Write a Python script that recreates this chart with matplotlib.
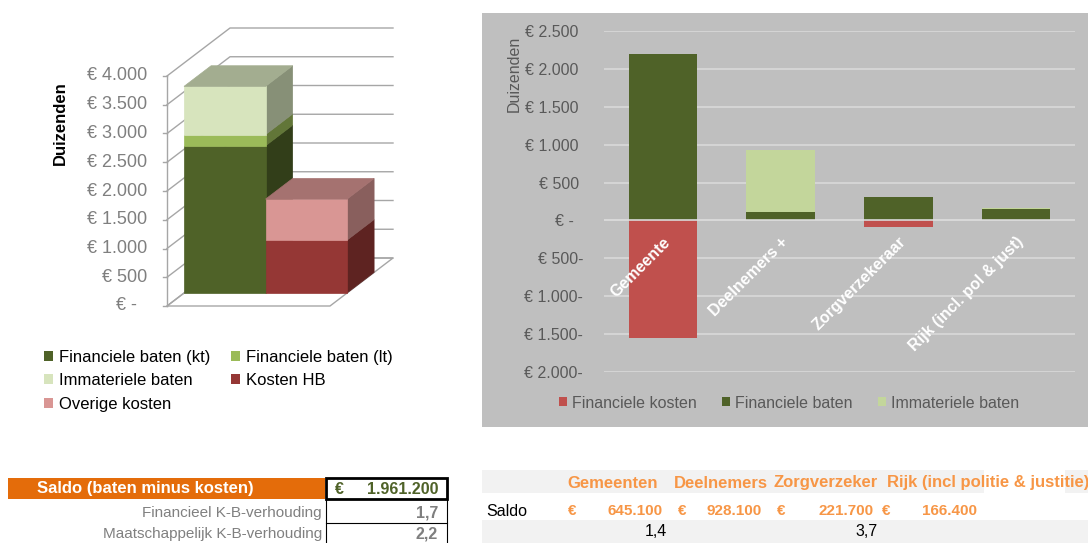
import matplotlib
matplotlib.use('Agg')
import matplotlib.pyplot as plt
from matplotlib.patches import Polygon, Rectangle, Patch
from matplotlib.colors import to_rgb
from matplotlib.transforms import ScaledTranslation

plt.rcParams['font.family'] = ['Liberation Sans', 'DejaVu Sans']

# ---- data: linker 3D-grafiek (duizenden euro) ----
baten_labels = ['Financiele baten (kt)', 'Financiele baten (lt)', 'Immateriele baten']
baten_values = [2560, 195, 839]
kosten_labels = ['Kosten HB', 'Overige kosten']
kosten_values = [920, 713]
left_ticks = list(range(0, 4001, 500))

# ---- data: rechter grafiek per partij ----
partijen = ['Gemeente', 'Deelnemers +', 'Zorgverzekeraar', 'Rijk (incl. pol & just)']
fin_kosten = [-1545, 0, -88, 0]
fin_baten = [2190, 110, 310, 145]
imm_baten = [0, 818, 0, 21]
right_ticks = list(range(-2000, 2501, 500))

# ---- data: tabellen ----
saldo_totaal = 1961200
kb_labels = ['Financieel K-B-verhouding', 'Maatschappelijk K-B-verhouding']
kb_values = [1.7, 2.2]
tabel_koppen = ['Gemeenten', 'Deelnemers', 'Zorgverzeker', 'Rijk (incl politie & justitie)']
tabel_saldo = [645100, 928100, 221700, 166400]
tabel_ratio = [1.4, None, 3.7, None]

W, H = 1088, 543
fig = plt.figure(figsize=(W / 100, H / 100), dpi=100)


def fx(px):
    return px / W


def fy(py):
    return 1 - py / H


def euro(v):
    return f"{v:,.0f}".replace(',', '.')


def shade(c, f):
    r, g, b = to_rgb(c)
    return (r * f, g * f, b * f)


# ================= linker 3D kolomgrafiek =================
X0, UX = 167, 81.5      # px van x=0, px per kolom
Y0, UY = 306, 0.0575    # px van waarde 0, px per eenheid
DX, DY = 63 / UX, 48 / UY
ZF, ZB = 0.27, 0.70

ax1 = fig.add_axes([0, fy(320), 450 / W, 320 / H])
ax1.set_xlim((0 - X0) / UX, (450 - X0) / UX)
ax1.set_ylim((Y0 - 320) / UY, Y0 / UY)
ax1.axis('off')


def proj(x, v, z):
    return (x + DX * z, v + DY * z)


grid_c = '#A6A6A6'
floor = Polygon([proj(0, 0, 0), proj(2, 0, 0), proj(2, 0, 1), proj(0, 0, 1)],
                closed=True, facecolor='white', edgecolor=grid_c, lw=1, zorder=1)
ax1.add_patch(floor)
for v in left_ticks:
    a, b, c = proj(0, v, 0), proj(0, v, 1), proj(2, v, 1)
    ax1.plot([a[0], b[0], c[0]], [a[1], b[1], c[1]], color=grid_c, lw=1, zorder=1)
    ax1.plot([-4 / UX, 0], [v, v], color=grid_c, lw=1, zorder=1)
    lab = '€ -  ' if v == 0 else f'€ {euro(v)}'
    ax1.text(-20 / UX, v, lab, ha='right', va='center', fontsize=13, color='#7F7F7F')
ax1.plot([0, 0], [0, left_ticks[-1]], color=grid_c, lw=1, zorder=1)

left_colors = {'Financiele baten (kt)': '#4F6228', 'Financiele baten (lt)': '#9BBB59',
               'Immateriele baten': '#D7E4BD', 'Kosten HB': '#953735',
               'Overige kosten': '#D99694'}

for i, (labels, values) in enumerate([(baten_labels, baten_values),
                                      (kosten_labels, kosten_values)]):
    bottom = 0
    zo = 3 + i * 3
    for j, (lab, val) in enumerate(zip(labels, values)):
        col = left_colors[lab]
        top = bottom + val
        side = [proj(i + 1, bottom, ZF), proj(i + 1, bottom, ZB),
                proj(i + 1, top, ZB), proj(i + 1, top, ZF)]
        ax1.add_patch(Polygon(side, closed=True, facecolor=shade(col, 0.63),
                              edgecolor=shade(col, 0.63), lw=0.5, zorder=zo))
        front = [proj(i, bottom, ZF), proj(i + 1, bottom, ZF),
                 proj(i + 1, top, ZF), proj(i, top, ZF)]
        ax1.add_patch(Polygon(front, closed=True, facecolor=col, edgecolor=col,
                              lw=0.5, zorder=zo + 1))
        if j == len(values) - 1:
            tp = [proj(i, top, ZF), proj(i + 1, top, ZF),
                  proj(i + 1, top, ZB), proj(i, top, ZB)]
            ax1.add_patch(Polygon(tp, closed=True, facecolor=shade(col, 0.76),
                                  edgecolor=shade(col, 0.76), lw=0.5, zorder=zo + 2))
        bottom = top

fig.text(fx(60), fy(123), 'Duizenden', rotation=90, ha='center', va='center',
         fontsize=12, fontweight='bold', color='black')

order = ['Financiele baten (kt)', 'Immateriele baten', 'Overige kosten',
         'Financiele baten (lt)', 'Kosten HB']
handles = [Patch(facecolor=left_colors[k], edgecolor='none') for k in order]
fig.legend(handles, order, ncol=2, loc='upper left', bbox_to_anchor=(fx(44), fy(350)),
           frameon=False, fontsize=12, handlelength=0.55, handleheight=0.55,
           handletextpad=0.35, columnspacing=1.25, labelspacing=0.5,
           borderpad=0, borderaxespad=0)

# ================= rechter grafiek =================
fig.add_artist(Rectangle((fx(482), fy(427)), (1088 - 482) / W, (427 - 13) / H,
                         transform=fig.transFigure, facecolor='#BFBFBF',
                         edgecolor='none', zorder=0))

ax2 = fig.add_axes([fx(604), fy(372), (1075 - 604) / W, (372 - 31) / H])
ax2.set_facecolor('#BFBFBF')
x = list(range(len(partijen)))
red, dgreen, lgreen = '#C0504D', '#4F6228', '#C3D69B'
ax2.bar(x, fin_kosten, width=0.58, color=red, label='Financiele kosten', zorder=2)
ax2.bar(x, fin_baten, width=0.58, color=dgreen, label='Financiele baten', zorder=2)
ax2.bar(x, imm_baten, width=0.58, bottom=fin_baten, color=lgreen,
        label='Immateriele baten', zorder=2)
ax2.axhline(0, color='#D9D9D9', lw=1.2, zorder=3)
ax2.set_xlim(-0.5, len(partijen) - 0.5)
ax2.set_ylim(right_ticks[0], right_ticks[-1])
ax2.set_yticks(right_ticks)


def fmt_r(v):
    if v == 0:
        return '€ -  '
    if v < 0:
        return f'€ {euro(-v)}-'
    return f'€ {euro(v)} '


ax2.set_yticklabels([fmt_r(v) for v in right_ticks])
ax2.set_xticks([])
ax2.tick_params(axis='y', length=0, pad=15, labelsize=11.5, labelcolor='#595959')
ax2.yaxis.grid(True, color='#D9D9D9', lw=1.2)
ax2.set_axisbelow(True)
for s in ax2.spines.values():
    s.set_visible(False)

off = ScaledTranslation(0, -14 / 100, fig.dpi_scale_trans)
for i, name in enumerate(partijen):
    ax2.text(i, 0, name, transform=ax2.transData + off, rotation=45,
             rotation_mode='anchor', ha='right', va='top', color='white',
             fontsize=11.5, fontweight='bold', zorder=5)

fig.text(fx(514), fy(74), 'Duizenden', rotation=90, ha='center', va='center',
         fontsize=11.5, color='#595959')

h2, l2 = ax2.get_legend_handles_labels()
fig.legend(h2, l2, ncol=3, loc='center', bbox_to_anchor=(fx(789), fy(403)),
           frameon=False, fontsize=11.5, handlelength=0.5, handleheight=0.5,
           handletextpad=0.3, columnspacing=1.6, labelcolor='#595959',
           borderpad=0, borderaxespad=0)

# ================= tabel links =================
orange = '#E46C0A'
fig.add_artist(Rectangle((fx(8), fy(499)), (325 - 8) / W, 21 / H,
                         transform=fig.transFigure, facecolor=orange, edgecolor='none'))
fig.text(fx(145), fy(489), 'Saldo (baten minus kosten)', ha='center', va='center',
         fontsize=12, fontweight='bold', color='white')
fig.add_artist(Rectangle((fx(326), fy(499)), (447 - 326) / W, 21 / H,
                         transform=fig.transFigure, facecolor='white',
                         edgecolor='black', lw=2))
fig.text(fx(335), fy(489), '€', ha='left', va='center', fontsize=11.5,
         fontweight='bold', color='#4F6228')
fig.text(fx(438), fy(489), euro(saldo_totaal), ha='right', va='center',
         fontsize=11.5, fontweight='bold', color='#4F6228')
for k, (lab, val) in enumerate(zip(kb_labels, kb_values)):
    yy = 513 + k * 21
    fig.text(fx(322), fy(yy), lab, ha='right', va='center', fontsize=11,
             color='#808080')
    fig.text(fx(438), fy(yy), f'{val:.1f}'.replace('.', ','), ha='right',
             va='center', fontsize=11.5, fontweight='bold', color='#7F7F7F')
for xx in (326, 447):
    fig.add_artist(plt.Line2D([fx(xx), fx(xx)], [fy(500), fy(543)],
                              transform=fig.transFigure, color='black', lw=0.8))
fig.add_artist(plt.Line2D([fx(326), fx(447)], [fy(523), fy(523)],
                          transform=fig.transFigure, color='black', lw=0.8))

# ================= tabel rechts =================
band = '#F2F2F2'
for x0, x1 in [(482, 984), (1065, 1088)]:
    fig.add_artist(Rectangle((fx(x0), fy(493)), (x1 - x0) / W, 23 / H,
                             transform=fig.transFigure, facecolor=band,
                             edgecolor='none', zorder=0))
fig.add_artist(Rectangle((fx(482), fy(543)), (1088 - 482) / W, 23 / H,
                         transform=fig.transFigure, facecolor=band,
                         edgecolor='none', zorder=0))

org_txt = '#F79646'
kop_x = [567, 674, 773, 887]
euro_x = [568, 678, 777, 882]
num_x = [663, 762, 874, 977]
for k, kop in enumerate(tabel_koppen):
    fig.text(fx(kop_x[k]), fy(483), kop, ha='left', va='center', fontsize=12,
             fontweight='bold', color=org_txt)
    fig.text(fx(euro_x[k]), fy(511), '€', ha='left', va='center', fontsize=11,
             fontweight='bold', color=org_txt)
    fig.text(fx(num_x[k]), fy(511), euro(tabel_saldo[k]), ha='right', va='center',
             fontsize=11, fontweight='bold', color=org_txt)
    if tabel_ratio[k] is not None:
        fig.text(fx(num_x[k] + 4), fy(532), f'{tabel_ratio[k]:.1f}'.replace('.', ','),
                 ha='right', va='center', fontsize=11.5, color='black')
fig.text(fx(486), fy(511), 'Saldo', ha='left', va='center', fontsize=11.5,
         color='black')

fig.savefig('out.png', dpi=100)
